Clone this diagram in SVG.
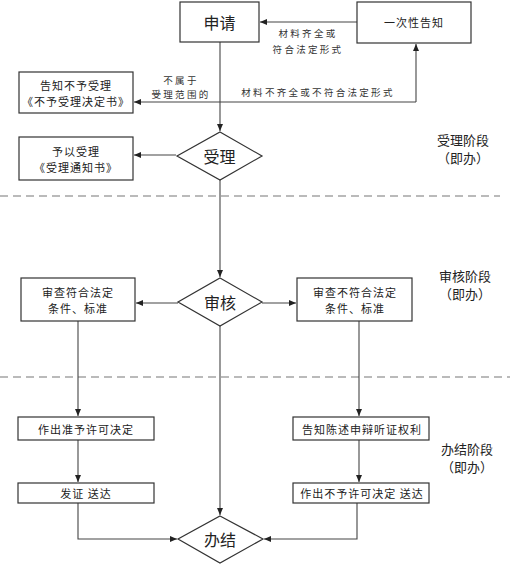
<svg xmlns="http://www.w3.org/2000/svg" width="521" height="568" viewBox="0 0 521 568">
<defs>
<marker id="ah" markerWidth="8" markerHeight="8" refX="7" refY="4" orient="auto" markerUnits="userSpaceOnUse">
<path d="M0,1 L7,4 L0,7 Z" fill="#222"/>
</marker>
<style>
.box{fill:#fff;stroke:#333;stroke-width:1.2}
.t{font-family:"Noto Sans CJK SC","Noto Sans CJK JP",sans-serif;fill:#222;text-anchor:middle;dominant-baseline:central}
.s{font-size:11px;letter-spacing:1px}
.l{font-size:9.5px;letter-spacing:2.3px;fill:#333}
.big{font-size:16px}
.ph{font-size:13px}
.c{fill:none;stroke:#444;stroke-width:1.1;marker-end:url(#ah)}
.dash{stroke:#777;stroke-width:1.2;stroke-dasharray:8 5;fill:none}
</style>
</defs>
<rect width="521" height="568" fill="#fff"/>

<g id="dividers">
<line class="dash" x1="0" y1="196" x2="500" y2="196"/>
<line class="dash" x1="0" y1="377" x2="510" y2="377"/>
</g>

<g id="connectors">
<path class="c" d="M357,22 L260,22"/>
<path class="c" d="M220,42 L220,131"/>
<path class="c" d="M416,102 L416,44"/>
<path class="c" d="M416,102 L134,102"/>
<path class="c" d="M176,155 L134,155"/>
<path class="c" d="M220,180 L220,277"/>
<path class="c" d="M178,303 L136,303"/>
<path class="c" d="M262,303 L296,303"/>
<path class="c" d="M78,321 L78,416"/>
<path class="c" d="M359,321 L359,416"/>
<path class="c" d="M220,326 L220,515"/>
<path class="c" d="M78,440 L78,482"/>
<path class="c" d="M359,440 L359,482"/>
<path class="c" d="M78,503 L78,539 L177,539"/>
<path class="c" d="M357,503 L357,539 L264,539"/>
<text class="t l" x="308" y="33">材料齐全或</text>
<text class="t l" x="308" y="49">符合法定形式</text>
<text class="t l" x="181" y="80">不属于</text>
<text class="t l" x="181" y="94">受理范围的</text>
<text class="t l" x="318" y="92">材料不齐全或不符合法定形式</text>
</g>

<g id="shenqing">
<rect class="box" x="180" y="2" width="79" height="40"/>
<text class="t big" x="219.5" y="22">申请</text>
</g>
<g id="yicixing">
<rect class="box" x="357" y="2" width="114" height="41"/>
<text class="t s" x="414" y="22">一次性告知</text>
</g>
<g id="buyushouli">
<rect class="box" x="19" y="72" width="114" height="41"/>
<text class="t s" x="76" y="85">告知不予受理</text>
<text class="t s" x="76" y="101">《不予受理决定书》</text>
</g>
<g id="shouli">
<polygon class="box" points="220,132 262,156 220,180 177,156"/>
<text class="t big" x="219.5" y="156">受理</text>
</g>
<g id="yuyishouli">
<rect class="box" x="19" y="137" width="114" height="43"/>
<text class="t s" x="76" y="151">予以受理</text>
<text class="t s" x="76" y="167">《受理通知书》</text>
</g>
<g id="shenhe">
<polygon class="box" points="220,278 262,302 220,326 178,302"/>
<text class="t big" x="220" y="302">审核</text>
</g>
<g id="fuhe">
<rect class="box" x="21" y="278" width="114" height="43"/>
<text class="t s" x="78" y="292">审查符合法定</text>
<text class="t s" x="78" y="308">条件、标准</text>
</g>
<g id="bufuhe">
<rect class="box" x="297" y="278" width="115" height="43"/>
<text class="t s" x="355" y="292">审查不符合法定</text>
<text class="t s" x="355" y="308">条件、标准</text>
</g>
<g id="zhunyu">
<rect class="box" x="18" y="417" width="136" height="23"/>
<text class="t s" x="86" y="429">作出准予许可决定</text>
</g>
<g id="fazheng">
<rect class="box" x="18" y="483" width="136" height="20"/>
<text class="t s" x="86" y="493">发证 送达</text>
</g>
<g id="gaozhi">
<rect class="box" x="293" y="417" width="136" height="23"/>
<text class="t s" x="362" y="429">告知陈述申辩听证权利</text>
</g>
<g id="buyu">
<rect class="box" x="293" y="483" width="136" height="20"/>
<text class="t s" x="362" y="493">作出不予许可决定 送达</text>
</g>
<g id="banjie">
<polygon class="box" points="220,516 263,539 220,563 178,539"/>
<text class="t big" x="220" y="539">办结</text>
</g>

<g id="phases">
<text class="t ph" x="463" y="139">受理阶段</text>
<text class="t ph" x="463" y="157">（即办）</text>
<text class="t ph" x="465" y="275">审核阶段</text>
<text class="t ph" x="465" y="293">（即办）</text>
<text class="t ph" x="467" y="448">办结阶段</text>
<text class="t ph" x="467" y="466">（即办）</text>
</g>
</svg>
